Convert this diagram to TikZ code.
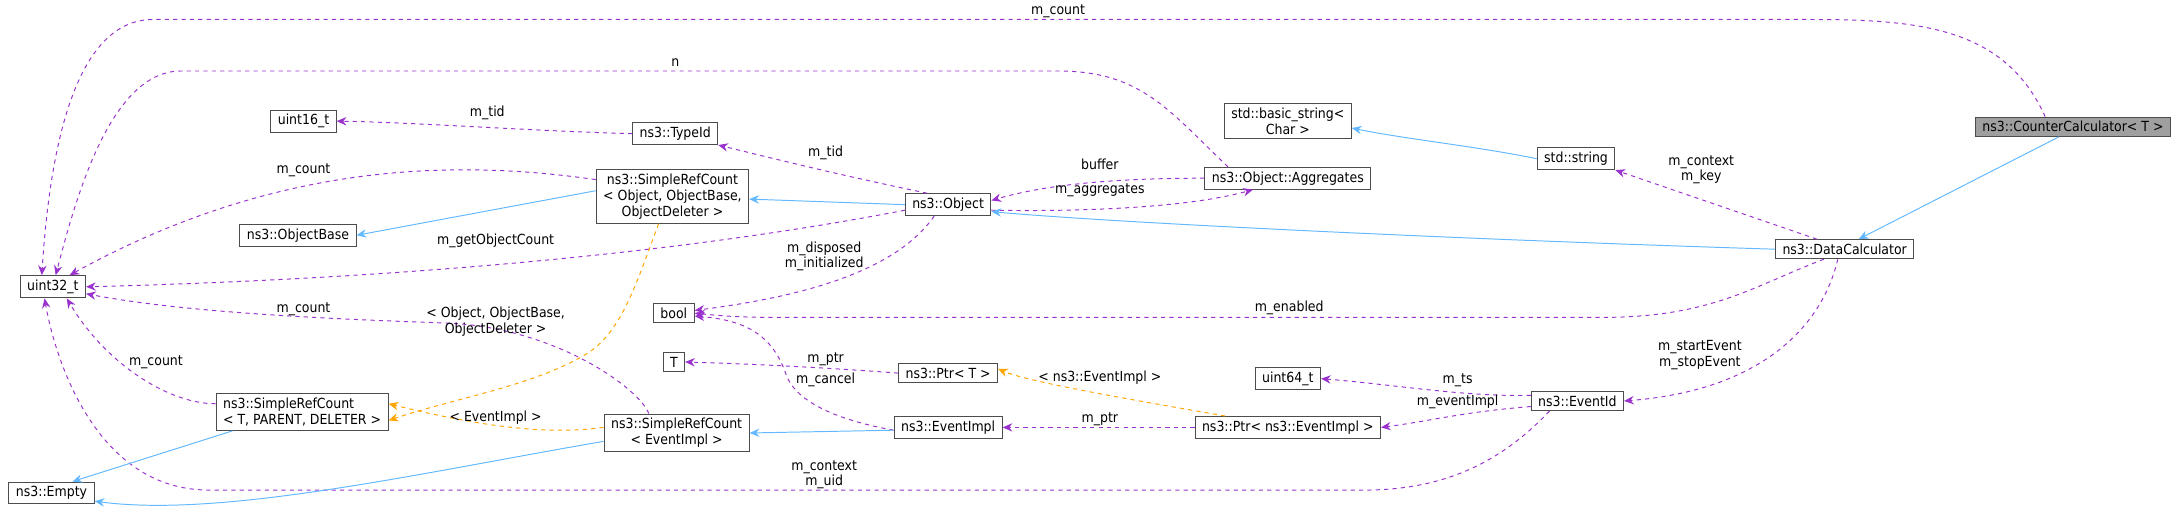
\documentclass[tikz,border=0pt]{standalone}
\usepackage{fontspec}
\setmainfont{DejaVu Sans Condensed}
\usetikzlibrary{arrows.meta}
\definecolor{mem}{HTML}{9A32CD}
\definecolor{inh}{HTML}{63B8FF}
\definecolor{tpl}{HTML}{FFA500}
\begin{document}
\begin{tikzpicture}[x=1pt,y=-1pt,
  cls/.style={draw=gray!60!black,fill=white,font=\fontsize{10}{11.5}\selectfont,inner xsep=5pt,inner ysep=3pt,align=center,line width=0.7pt},
  lbl/.style={font=\fontsize{10}{11}\selectfont,align=center,inner sep=0pt},
  member/.style={draw=mem,dashed,line width=0.7pt,-{Stealth[length=7pt,width=6pt,fill=mem]}},
  inherit/.style={draw=inh,line width=0.7pt,-{Stealth[length=7pt,width=6pt,fill=inh]}},
  templ/.style={draw=tpl,dashed,line width=0.7pt,-{Stealth[length=7pt,width=6pt,fill=tpl]}}]
\useasboundingbox (0,0) rectangle (1568,371);
% nodes
\node[cls] (u32) at (38,206) {uint32\_t};
\node[cls] (empty) at (37,354) {ns3::Empty};
\node[cls] (u16) at (218,87) {uint16\_t};
\node[cls] (objbase) at (214,169) {ns3::ObjectBase};
\node[cls] (srco) at (483,141) {ns3::SimpleRefCount\\< Object, ObjectBase,\\ObjectDeleter >};
\node[cls] (typeid) at (485,96) {ns3::TypeId};
\node[cls] (obj) at (681,147) {ns3::Object};
\node[cls] (aggr) at (925,128) {ns3::Object::Aggregates};
\node[cls] (bstr) at (925,87) {std::basic\_string<\\Char >};
\node[cls] (str) at (1132,114) {std::string};
\node[cls] (dc) at (1325,179) {ns3::DataCalculator};
\node[cls,fill=gray!75] (cc) at (1489,91) {ns3::CounterCalculator< T >};
\node[cls] (bool) at (484,225) {bool};
\node[cls] (T) at (484,260) {T};
\node[cls,align=left] (srct) at (217,296) {ns3::SimpleRefCount\\< T, PARENT, DELETER >};
\node[cls] (srce) at (486,311) {ns3::SimpleRefCount\\< EventImpl >};
\node[cls] (ptrt) at (681,268) {ns3::Ptr< T >};
\node[cls] (evi) at (681,307) {ns3::EventImpl};
\node[cls] (ptre) at (925,307) {ns3::Ptr< ns3::EventImpl >};
\node[cls] (u64) at (925,272) {uint64\_t};
\node[cls] (eid) at (1133,288) {ns3::EventId};
% member edges
\draw[member] ([xshift=-20pt]cc.north) .. controls (1440,20) and (1380,14) .. (1300,14) -- (110,14) .. controls (50,14) and (35,120) .. ([xshift=-8pt]u32.north);
\node[lbl] at (760,8) {m\_count};
\draw[member] ([xshift=-43pt]aggr.north) .. controls (840,80) and (820,51) .. (760,51) -- (130,51) .. controls (80,51) and (55,140) .. ([xshift=2pt]u32.north);
\node[lbl] at (485,45) {n};
\draw[member] (typeid.west) .. controls (380,94) and (300,88) .. (u16.east);
\node[lbl] at (350,81) {m\_tid};
\draw[member] ([xshift=-15pt]obj.north) .. controls (600,125) and (560,115) .. (typeid.south east);
\node[lbl] at (593,110) {m\_tid};
\draw[member] ([yshift=12pt]srco.west) .. controls (330,115) and (200,115) .. ([xshift=12pt]u32.north);
\node[lbl] at (218,122) {m\_count};
\draw[member] ([yshift=-4pt]obj.west) .. controls (500,180) and (300,200) .. (u32.east);
\node[lbl] at (356,173) {m\_getObjectCount};
\draw[member] (aggr.west) .. controls (820,128) and (760,130) .. ([yshift=3pt]obj.east);
\node[lbl] at (790,118) {buffer};
\draw[member] ([yshift=-4pt]obj.east) .. controls (770,152) and (850,150) .. ([xshift=-25pt]aggr.south);
\node[lbl] at (790,137) {m\_aggregates};
\draw[member] ([xshift=-20pt]dc.north) -- (str.south east);
\node[lbl] at (1222,122) {m\_context\\m\_key};
\draw[member] ([xshift=-10pt]obj.south) .. controls (640,200) and (560,215) .. ([yshift=2pt]bool.east);
\node[lbl] at (592,184) {m\_disposed\\m\_initialized};
\draw[member] ([xshift=-15pt]dc.south) .. controls (1260,205) and (1230,228) .. (1150,228) -- (560,228) .. controls (530,228) and (520,227) .. (bool.east);
\node[lbl] at (926,221) {m\_enabled};
\draw[member] ([xshift=-5pt]dc.south) .. controls (1310,230) and (1270,280) .. (eid.east);
\node[lbl] at (1221,255) {m\_startEvent\\m\_stopEvent};
\draw[member] (ptrt.west) .. controls (620,266) and (560,262) .. (T.east);
\node[lbl] at (593,258) {m\_ptr};
\draw[member] ([yshift=-2pt]evi.west) .. controls (620,305) and (575,295) .. (565,270) .. controls (555,240) and (535,230) .. ([yshift=-2pt]bool.east);
\node[lbl] at (593,273) {m\_cancel};
\draw[member] ([yshift=6pt]srct.west) .. controls (120,290) and (75,260) .. ([xshift=10pt]u32.south);
\node[lbl] at (112,260) {m\_count};
\draw[member] ([xshift=-20pt]srce.north) .. controls (460,280) and (400,235) .. (320,232) .. controls (200,228) and (120,222) .. ([yshift=-5pt]u32.east);
\node[lbl] at (218,222) {m\_count};
\draw[member] (ptre.west) -- (evi.east);
\node[lbl] at (790,301) {m\_ptr};
\draw[member] ([yshift=4pt]eid.west) .. controls (1050,285) and (1000,276) .. (u64.east);
\node[lbl] at (1047,273) {m\_ts};
\draw[member] ([yshift=-4pt]eid.west) .. controls (1050,296) and (1030,302) .. (ptre.east);
\node[lbl] at (1047,289) {m\_eventImpl};
\draw[member] ([xshift=-20pt]eid.south) .. controls (1080,330) and (1040,352) .. (980,352) -- (150,352) .. controls (70,352) and (40,260) .. ([xshift=-6pt]u32.south);
\node[lbl] at (592,341) {m\_context\\m\_uid};
% templates
\draw[templ] ([xshift=-10pt]srco.south) .. controls (455,210) and (445,240) .. (420,255) .. controls (380,278) and (330,285) .. ([yshift=-6pt]srct.east);
\node[lbl] at (356,231) {< Object, ObjectBase,\\ObjectDeleter >};
\draw[templ] ([yshift=4pt]srce.west) .. controls (390,313) and (340,305) .. ([yshift=6pt]srct.east);
\node[lbl] at (356,300) {< EventImpl >};
\draw[templ] ([xshift=-45pt]ptre.north) .. controls (830,290) and (740,275) .. ([yshift=3pt]ptrt.east);
\node[lbl] at (790,271) {< ns3::EventImpl >};
% inheritance
\draw[inherit] ([yshift=4pt]srco.west) -- (objbase.east);
\draw[inherit] (obj.west) -- ([yshift=-2pt]srco.east);
\draw[inherit] (dc.west) .. controls (1050,172) and (800,160) .. ([yshift=-5pt]obj.east);
\draw[inherit] (str.west) .. controls (1060,105) and (1010,100) .. ([yshift=-5pt]bstr.east);
\draw[inherit] ([xshift=-10pt]cc.south) -- ([xshift=10pt]dc.north);
\draw[inherit] ([xshift=-50pt]srct.south) -- ([xshift=15pt]empty.north);
\draw[inherit] ([yshift=-2pt]evi.west) -- (srce.east);
\draw[inherit] ([yshift=-6pt]srce.west) .. controls (300,340) and (160,372) .. ([yshift=-6pt]empty.east);
\end{tikzpicture}
\end{document}
